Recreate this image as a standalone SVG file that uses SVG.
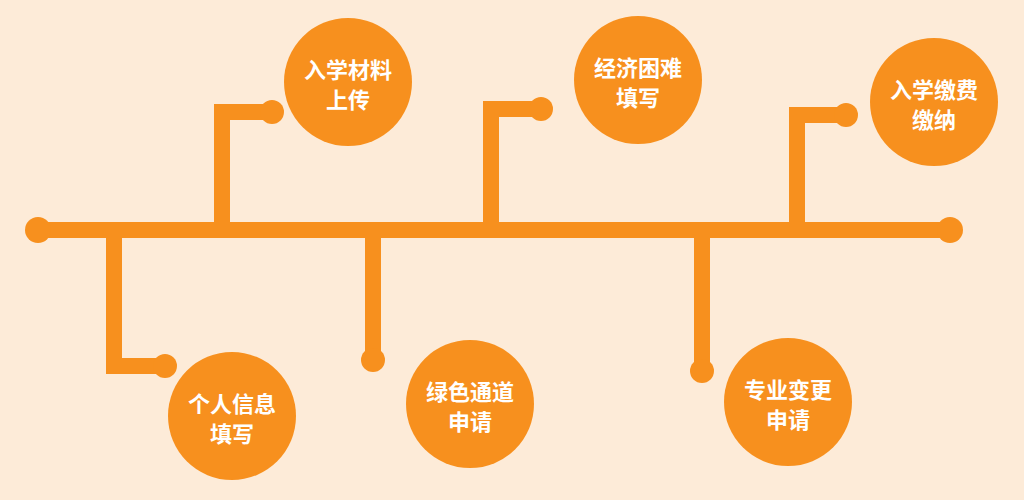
<svg xmlns="http://www.w3.org/2000/svg" width="1024" height="500" viewBox="0 0 1024 500">
<style>
.ln{stroke:#F7901E;stroke-width:16;fill:none}
.dot{fill:#F7901E}
.c{fill:#F7901E}
.t{fill:#fff;font-family:"Noto Sans CJK SC",sans-serif;font-weight:bold;font-size:22px;text-anchor:middle}
</style>
<rect width="1024" height="500" fill="#FDEBD8"/>
<g id="connectors">
<line class="ln" x1="38" y1="230" x2="950" y2="230"/>
<circle class="dot" cx="38" cy="230" r="13"/>
<circle class="dot" cx="950" cy="230" r="13"/>
<polyline class="ln" points="114,230 114,366 165,366"/>
<circle class="dot" cx="165" cy="366" r="12"/>
<polyline class="ln" points="222,230 222,112 272,112"/>
<circle class="dot" cx="272" cy="112" r="12"/>
<polyline class="ln" points="373,230 373,360"/>
<circle class="dot" cx="373" cy="360" r="12"/>
<polyline class="ln" points="491,230 491,109 541,109"/>
<circle class="dot" cx="541" cy="109" r="12"/>
<polyline class="ln" points="702,230 702,370"/>
<circle class="dot" cx="702" cy="371" r="12"/>
<polyline class="ln" points="797,230 797,115 846,115"/>
<circle class="dot" cx="846" cy="115" r="12"/>
</g>
<g id="n1"><circle class="c" cx="232" cy="416" r="64"/><text class="t" x="232" y="412">个人信息</text><text class="t" x="232" y="442">填写</text></g>
<g id="n2"><circle class="c" cx="348" cy="82" r="64"/><text class="t" x="348" y="78">入学材料</text><text class="t" x="348" y="108">上传</text></g>
<g id="n3"><circle class="c" cx="470" cy="404" r="64"/><text class="t" x="470" y="400">绿色通道</text><text class="t" x="470" y="430">申请</text></g>
<g id="n4"><circle class="c" cx="638" cy="80" r="64"/><text class="t" x="638" y="76">经济困难</text><text class="t" x="638" y="106">填写</text></g>
<g id="n5"><circle class="c" cx="788" cy="402" r="64"/><text class="t" x="788" y="398">专业变更</text><text class="t" x="788" y="428">申请</text></g>
<g id="n6"><circle class="c" cx="934" cy="102" r="64"/><text class="t" x="934" y="98">入学缴费</text><text class="t" x="934" y="128">缴纳</text></g>
</svg>
